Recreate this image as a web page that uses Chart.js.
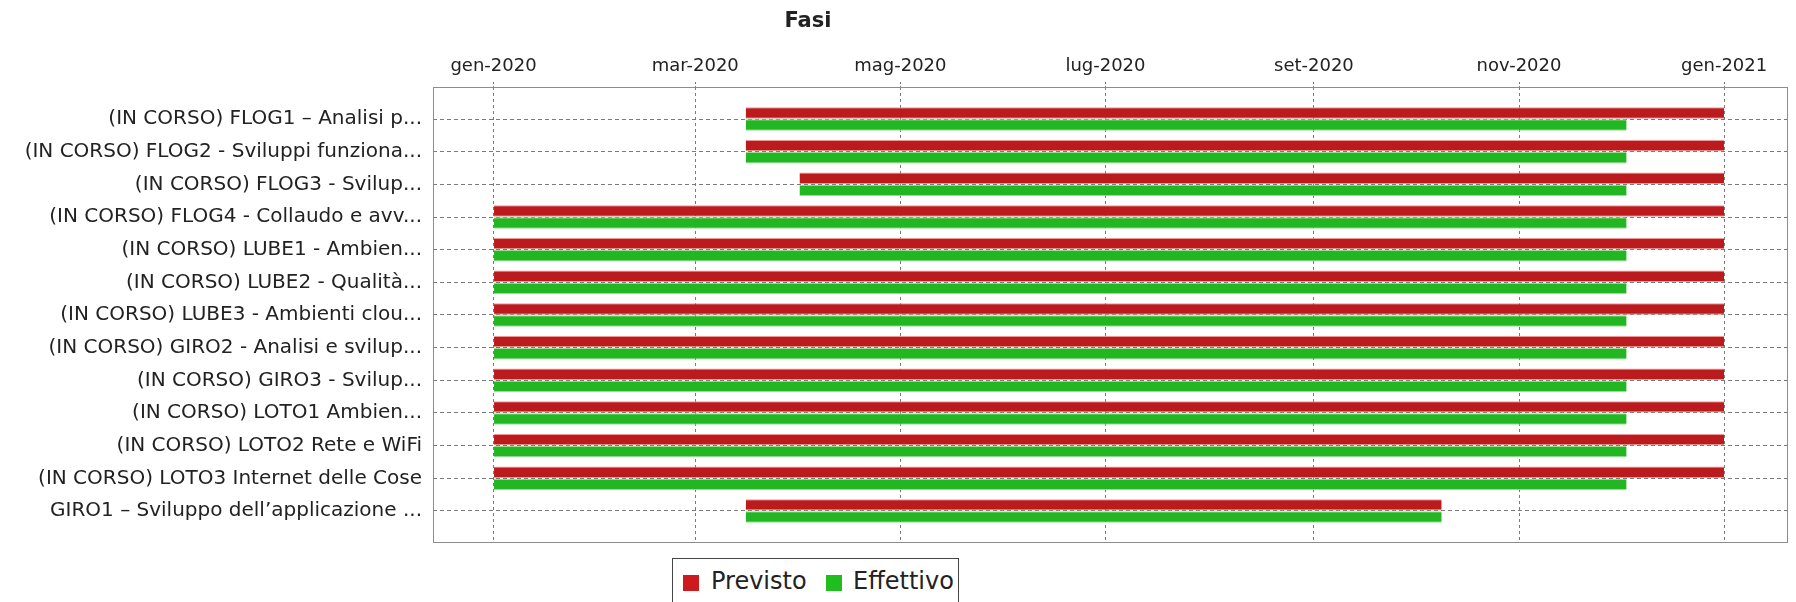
<!DOCTYPE html>
<html><head><meta charset="utf-8">
<script src="https://cdn.jsdelivr.net/npm/chart.js@4.4.1/dist/chart.umd.min.js"></script>
<style>
html,body{margin:0;padding:0;background:#fff;overflow:hidden;width:1796px;height:602px;}
#wrap{position:relative;width:1796px;height:602px;overflow:hidden;}
#c{position:absolute;left:0;top:0;}
#title{position:absolute;left:708px;width:200px;top:8px;text-align:center;font:bold 21px "DejaVu Sans";color:#222;}
#legend{position:absolute;left:672px;top:558px;width:287px;height:60px;border:1px solid #444;box-sizing:border-box;background:#fff;font:24px "DejaVu Sans";color:#222;}
#legend .sq{position:absolute;top:16px;width:16px;height:16px;}
#legend .tx{position:absolute;top:8px;line-height:28px;white-space:nowrap;}
</style>
</head><body>
<div id="wrap">
<canvas id="c" width="1796" height="602"></canvas>
<div id="title">Fasi</div>
<div id="legend"></div>
</div>
<script>
const categories = [
  '(IN CORSO) FLOG1 \u2013 Analisi p...',
  '(IN CORSO) FLOG2 - Sviluppi funziona...',
  '(IN CORSO) FLOG3 - Svilup...',
  '(IN CORSO) FLOG4 - Collaudo e avv...',
  '(IN CORSO) LUBE1 - Ambien...',
  '(IN CORSO) LUBE2 - Qualit\u00e0...',
  '(IN CORSO) LUBE3 - Ambienti clou...',
  '(IN CORSO) GIRO2 - Analisi e svilup...',
  '(IN CORSO) GIRO3 - Svilup...',
  '(IN CORSO) LOTO1 Ambien...',
  '(IN CORSO) LOTO2 Rete e WiFi',
  '(IN CORSO) LOTO3 Internet delle Cose',
  'GIRO1 \u2013 Sviluppo dell\u2019applicazione ...'
];
const previstoStart = ['2020-03-16','2020-03-16','2020-04-01','2020-01-01','2020-01-01','2020-01-01','2020-01-01','2020-01-01','2020-01-01','2020-01-01','2020-01-01','2020-01-01','2020-03-16'];
const previstoEnd   = ['2021-01-01','2021-01-01','2021-01-01','2021-01-01','2021-01-01','2021-01-01','2021-01-01','2021-01-01','2021-01-01','2021-01-01','2021-01-01','2021-01-01','2020-10-09'];
const effettivoStart = ['2020-03-16','2020-03-16','2020-04-01','2020-01-01','2020-01-01','2020-01-01','2020-01-01','2020-01-01','2020-01-01','2020-01-01','2020-01-01','2020-01-01','2020-03-16'];
const effettivoEnd   = ['2020-12-03','2020-12-03','2020-12-03','2020-12-03','2020-12-03','2020-12-03','2020-12-03','2020-12-03','2020-12-03','2020-12-03','2020-12-03','2020-12-03','2020-10-09'];
const tickDates  = ['2020-01-01','2020-03-01','2020-05-01','2020-07-01','2020-09-01','2020-11-01','2021-01-01'];
const tickLabels = ['gen-2020','mar-2020','mag-2020','lug-2020','set-2020','nov-2020','gen-2021'];
const axisMin = '2019-12-14';
const axisMax = '2021-01-20';
const seriesNames = ['Previsto','Effettivo'];
const seriesColors = ['#BC1B1E','#22B722'];

const DAY = 86400000;
const EPOCH = Date.parse('2020-01-01T00:00:00Z');
const toDay = s => (Date.parse(s + 'T00:00:00Z') - EPOCH) / DAY;

function rows(starts, ends) {
  return categories.map((_, i) => ({ y: i, x: [toDay(starts[i]), toDay(ends[i])] }));
}

const borderPlugin = {
  id: 'plotBorder',
  afterDraw(chart) {
    const a = chart.chartArea, ctx = chart.ctx;
    ctx.save();
    ctx.strokeStyle = '#8c8c8c';
    ctx.lineWidth = 1;
    ctx.strokeRect(Math.round(a.left) + 0.5, Math.round(a.top) + 0.5, Math.round(a.right - a.left) - 1, Math.round(a.bottom - a.top));
    ctx.restore();
  }
};

new Chart(document.getElementById('c'), {
  type: 'bar',
  data: {
    datasets: [
      { label: seriesNames[0], data: rows(previstoStart, previstoEnd), backgroundColor: seriesColors[0],
        borderColor: 'rgba(235,140,140,0.9)', borderWidth: {top:1,bottom:1,left:0,right:0}, borderSkipped: false },
      { label: seriesNames[1], data: rows(effettivoStart, effettivoEnd), backgroundColor: seriesColors[1],
        borderColor: 'rgba(140,220,140,0.9)', borderWidth: {top:1,bottom:1,left:0,right:0}, borderSkipped: false }
    ]
  },
  options: {
    indexAxis: 'y',
    responsive: false,
    animation: false,
    devicePixelRatio: 1,
    layout: { padding: { left: 0, right: 8, top: 0, bottom: 60 } },
    datasets: { bar: { categoryPercentage: 0.74, barPercentage: 0.94 } },
    plugins: { legend: { display: false }, title: { display: false }, tooltip: { enabled: false } },
    scales: {
      x: {
        type: 'linear',
        position: 'top',
        offset: false,
        min: toDay(axisMin),
        max: toDay(axisMax),
        afterBuildTicks: s => { s.ticks = tickDates.map(d => ({ value: toDay(d) })); },
        afterFit: s => { s.height = 87; },
        ticks: {
          autoSkip: false, maxRotation: 0, padding: 5,
          color: '#222', font: { family: 'DejaVu Sans', size: 18 },
          callback: (v, i) => tickLabels[i]
        },
        grid: { offset: false, color: '#7a7a7a', lineWidth: 1, drawTicks: true, tickLength: 5, tickBorderDash: [2, 2] },
        border: { display: false, dash: [3, 3] }
      },
      y: {
        type: 'linear',
        reverse: true,
        offset: false,
        min: -0.98,
        max: 12.95,
        afterBuildTicks: s => { s.ticks = categories.map((_, i) => ({ value: i })); },
        afterFit: s => { s.width = 433; },
        ticks: {
          autoSkip: false, padding: 11,
          color: '#222', font: { family: 'DejaVu Sans', size: 20 },
          callback: v => categories[v]
        },
        grid: { offset: false, color: '#7a7a7a', lineWidth: 1, drawTicks: false },
        border: { display: false, dash: [4, 3] }
      }
    }
  },
  plugins: [borderPlugin]
});

// legend (HTML)
const lg = document.getElementById('legend');
const pos = [[10, 38], [153, 180]];
seriesNames.forEach((n, i) => {
  const sq = document.createElement('div');
  sq.className = 'sq'; sq.style.left = pos[i][0] + 'px'; sq.style.background = i === 0 ? '#CC1A1F' : '#1EBE1E';
  const tx = document.createElement('div');
  tx.className = 'tx'; tx.style.left = pos[i][1] + 'px'; tx.textContent = n;
  lg.appendChild(sq); lg.appendChild(tx);
});
</script>
</body></html>
